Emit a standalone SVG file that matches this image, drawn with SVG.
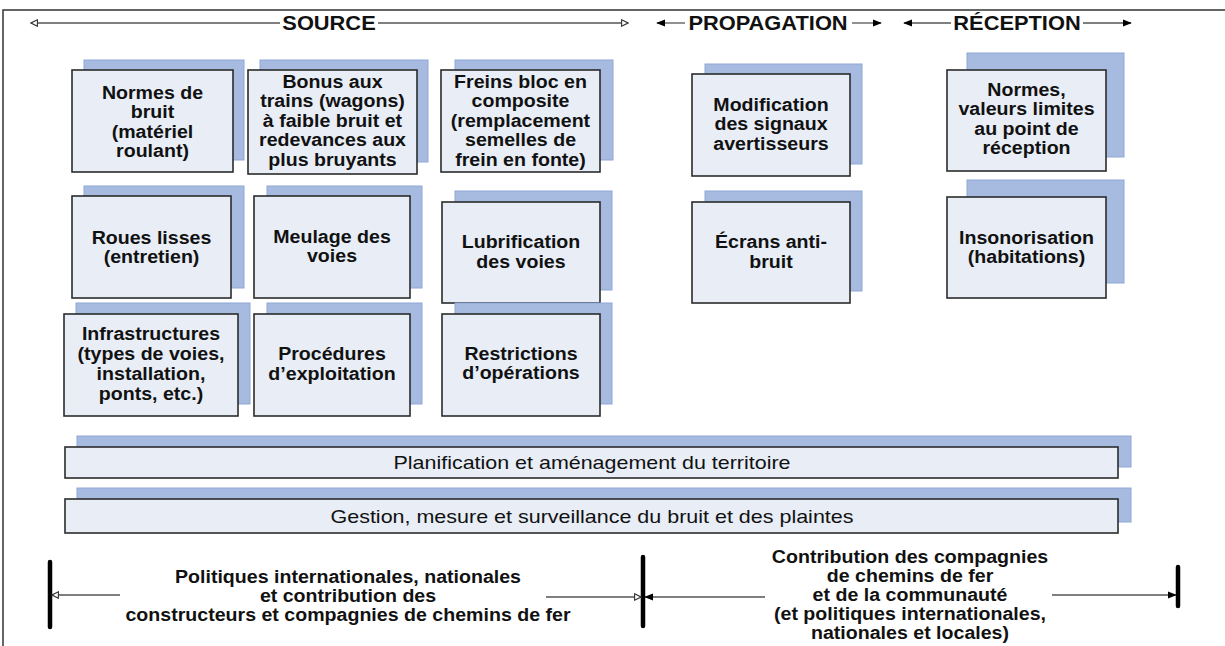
<svg xmlns="http://www.w3.org/2000/svg" width="1225" height="646" viewBox="0 0 1225 646">
  <style>
    .bg { fill: #ffffff; }
    .frame { stroke: #333333; stroke-width: 1.5; fill: none; }
    .shadow { fill: #a7bbe0; stroke: #8ea7d6; stroke-width: 1; }
    .card { fill: #e8edf6; stroke: #2b2b2b; stroke-width: 1.6; }
    .lbl { font-family: "Liberation Sans", Arial, sans-serif; font-weight: bold; font-size: 17.5px; fill: #111111; text-anchor: middle; }
    .head { font-family: "Liberation Sans", Arial, sans-serif; font-weight: bold; font-size: 19.5px; fill: #111111; text-anchor: middle; }
    .bar { font-family: "Liberation Sans Narrow", "Liberation Sans", Arial, sans-serif; font-size: 19px; fill: #111111; text-anchor: middle; }
    .line { stroke: #555555; stroke-width: 1.3; fill: none; }
    .stop { stroke: #000000; stroke-width: 4.5; stroke-linecap: round; }
  </style>
  <defs>
    <marker id="open" viewBox="0 0 10 10" refX="9" refY="5" markerWidth="8" markerHeight="8" markerUnits="userSpaceOnUse" orient="auto">
      <path d="M1,1 L9,5 L1,9 z" fill="#ffffff" stroke="#333333" stroke-width="1.4"/>
    </marker>
    <marker id="solid" viewBox="0 0 10 10" refX="9" refY="5" markerWidth="9" markerHeight="9" markerUnits="userSpaceOnUse" orient="auto">
      <path d="M0,1 L10,5 L0,9 z" fill="#000000"/>
    </marker>
  </defs>

  <rect class="bg" x="0" y="0" width="1225" height="646"/>
  <!-- outer frame: top and left edges only -->
  <path class="frame" d="M3,646 L3,10 L1225,10"/>

  <!-- column headings with their span arrows -->
  <g id="headings">
    <text class="head" transform="translate(329,30) scale(1.12 1)" x="0" y="0">SOURCE</text>
    <text class="head" transform="translate(768,30) scale(1.12 1)" x="0" y="0">PROPAGATION</text>
    <text class="head" transform="translate(1017,30) scale(1.12 1)" x="0" y="0">RÉCEPTION</text>
  </g>

  <g id="connectors">
    <!-- source span -->
    <line class="line" x1="280" y1="23" x2="31" y2="23" marker-end="url(#open)"/>
    <line class="line" x1="378" y1="23" x2="628" y2="23" marker-end="url(#open)"/>
    <!-- propagation span -->
    <line class="line" x1="685" y1="23" x2="657" y2="23" marker-end="url(#solid)"/>
    <line class="line" x1="852" y1="23" x2="881" y2="23" marker-end="url(#solid)"/>
    <!-- reception span -->
    <line class="line" x1="951" y1="23" x2="904" y2="23" marker-end="url(#solid)"/>
    <line class="line" x1="1083" y1="23" x2="1131" y2="23" marker-end="url(#solid)"/>

    <!-- responsibility ranges at the bottom -->
    <line class="stop" x1="50" y1="562" x2="50" y2="627"/>
    <line class="stop" x1="643" y1="557" x2="643" y2="626"/>
    <line class="stop" x1="1178" y1="567" x2="1178" y2="606"/>
    <line class="line" x1="120" y1="595" x2="52" y2="595" marker-end="url(#open)"/>
    <line class="line" x1="546" y1="597" x2="641" y2="597" marker-end="url(#open)"/>
    <line class="line" x1="765" y1="597" x2="645" y2="597" marker-end="url(#solid)"/>
    <line class="line" x1="1052" y1="595" x2="1176" y2="595" marker-end="url(#solid)"/>
  </g>

  <!-- source measures -->
  <g id="normes-bruit">
    <rect class="shadow" x="84" y="60" width="160" height="100"/>
    <rect class="card" x="72" y="70" width="161" height="102"/>
    <text class="lbl" transform="translate(152.5,0) scale(1.12 1)"><tspan x="0" y="99">Normes de</tspan><tspan x="0" y="118.5">bruit</tspan><tspan x="0" y="138">(matériel</tspan><tspan x="0" y="157.5">roulant)</tspan></text>
  </g>
  <g id="bonus-trains">
    <rect class="shadow" x="260" y="60" width="168" height="102"/>
    <rect class="card" x="248" y="70" width="169" height="104"/>
    <text class="lbl" transform="translate(332.5,0) scale(1.12 1)"><tspan x="0" y="88">Bonus aux</tspan><tspan x="0" y="107.5">trains (wagons)</tspan><tspan x="0" y="127">à faible bruit et</tspan><tspan x="0" y="146.5">redevances aux</tspan><tspan x="0" y="166">plus bruyants</tspan></text>
  </g>
  <g id="freins">
    <rect class="shadow" x="455" y="60" width="158" height="100"/>
    <rect class="card" x="441" y="70" width="159" height="102"/>
    <text class="lbl" transform="translate(520.5,0) scale(1.12 1)"><tspan x="0" y="88">Freins bloc en</tspan><tspan x="0" y="107.5">composite</tspan><tspan x="0" y="127">(remplacement</tspan><tspan x="0" y="146.5">semelles de</tspan><tspan x="0" y="166">frein en fonte)</tspan></text>
  </g>
  <g id="roues">
    <rect class="shadow" x="84" y="186" width="160" height="102"/>
    <rect class="card" x="72" y="196" width="159" height="102"/>
    <text class="lbl" transform="translate(151.5,0) scale(1.12 1)"><tspan x="0" y="244">Roues lisses</tspan><tspan x="0" y="263.5">(entretien)</tspan></text>
  </g>
  <g id="meulage">
    <rect class="shadow" x="267" y="186" width="155" height="102"/>
    <rect class="card" x="254" y="196" width="156" height="102"/>
    <text class="lbl" transform="translate(332,0) scale(1.12 1)"><tspan x="0" y="243">Meulage des</tspan><tspan x="0" y="262.5">voies</tspan></text>
  </g>
  <g id="lubrification">
    <rect class="shadow" x="455" y="191" width="157" height="99"/>
    <rect class="card" x="442" y="202" width="158" height="101"/>
    <text class="lbl" transform="translate(521,0) scale(1.12 1)"><tspan x="0" y="248">Lubrification</tspan><tspan x="0" y="268">des voies</tspan></text>
  </g>
  <g id="infrastructures">
    <rect class="shadow" x="76" y="303" width="174" height="101"/>
    <rect class="card" x="64" y="314" width="174" height="102"/>
    <text class="lbl" transform="translate(151,0) scale(1.12 1)"><tspan x="0" y="340">Infrastructures</tspan><tspan x="0" y="360">(types de voies,</tspan><tspan x="0" y="380">installation,</tspan><tspan x="0" y="400">ponts, etc.)</tspan></text>
  </g>
  <g id="procedures">
    <rect class="shadow" x="267" y="303" width="155" height="101"/>
    <rect class="card" x="254" y="314" width="156" height="102"/>
    <text class="lbl" transform="translate(332,0) scale(1.12 1)"><tspan x="0" y="360">Procédures</tspan><tspan x="0" y="380">d’exploitation</tspan></text>
  </g>
  <g id="restrictions">
    <rect class="shadow" x="455" y="303" width="157" height="101"/>
    <rect class="card" x="442" y="314" width="158" height="102"/>
    <text class="lbl" transform="translate(521,0) scale(1.12 1)"><tspan x="0" y="360">Restrictions</tspan><tspan x="0" y="379.5">d’opérations</tspan></text>
  </g>

  <!-- propagation measures -->
  <g id="signaux">
    <rect class="shadow" x="705" y="64" width="157" height="100"/>
    <rect class="card" x="692" y="74" width="158" height="102"/>
    <text class="lbl" transform="translate(771,0) scale(1.12 1)"><tspan x="0" y="111">Modification</tspan><tspan x="0" y="130.5">des signaux</tspan><tspan x="0" y="150">avertisseurs</tspan></text>
  </g>
  <g id="ecrans">
    <rect class="shadow" x="705" y="191" width="157" height="100"/>
    <rect class="card" x="692" y="202" width="158" height="101"/>
    <text class="lbl" transform="translate(771,0) scale(1.12 1)"><tspan x="0" y="248">Écrans anti-</tspan><tspan x="0" y="268">bruit</tspan></text>
  </g>

  <!-- reception measures -->
  <g id="valeurs-limites">
    <rect class="shadow" x="967" y="53" width="157" height="104"/>
    <rect class="card" x="947" y="70" width="159" height="101"/>
    <text class="lbl" transform="translate(1026.5,0) scale(1.12 1)"><tspan x="0" y="96">Normes,</tspan><tspan x="0" y="115.5">valeurs limites</tspan><tspan x="0" y="135">au point de</tspan><tspan x="0" y="154.5">réception</tspan></text>
  </g>
  <g id="insonorisation">
    <rect class="shadow" x="967" y="180" width="157" height="103"/>
    <rect class="card" x="947" y="197" width="159" height="101"/>
    <text class="lbl" transform="translate(1026.5,0) scale(1.12 1)"><tspan x="0" y="244">Insonorisation</tspan><tspan x="0" y="263.5">(habitations)</tspan></text>
  </g>

  <!-- cross-cutting bands -->
  <g id="planification">
    <rect class="shadow" x="77" y="436" width="1054" height="31"/>
    <rect class="card" x="65" y="447" width="1053" height="31"/>
    <text class="bar" x="592" y="469" textLength="397" lengthAdjust="spacingAndGlyphs">Planification et aménagement du territoire</text>
  </g>
  <g id="gestion">
    <rect class="shadow" x="77" y="488" width="1054" height="34"/>
    <rect class="card" x="65" y="499" width="1053" height="34"/>
    <text class="bar" x="592" y="523" textLength="523" lengthAdjust="spacingAndGlyphs">Gestion, mesure et surveillance du bruit et des plaintes</text>
  </g>

  <!-- bottom range labels -->
  <g id="politiques">
    <text class="lbl" transform="translate(348,0) scale(1.12 1)"><tspan x="0" y="583">Politiques internationales, nationales</tspan><tspan x="0" y="602">et contribution des</tspan><tspan x="0" y="621">constructeurs et compagnies de chemins de fer</tspan></text>
  </g>
  <g id="contribution">
    <text class="lbl" transform="translate(910,0) scale(1.12 1)"><tspan x="0" y="563">Contribution des compagnies</tspan><tspan x="0" y="582">de chemins de fer</tspan><tspan x="0" y="601">et de la communauté</tspan><tspan x="0" y="620">(et politiques internationales,</tspan><tspan x="0" y="639">nationales et locales)</tspan></text>
  </g>
</svg>
